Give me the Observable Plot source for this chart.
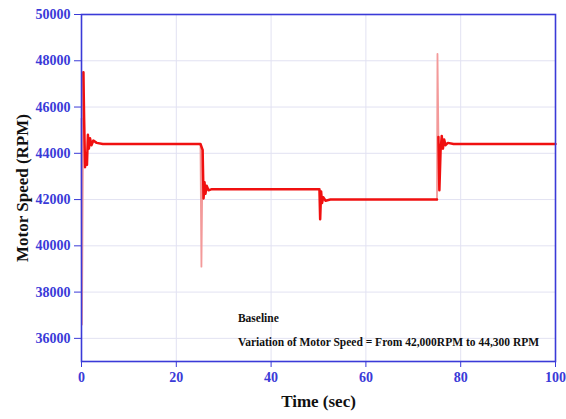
<!DOCTYPE html>
<html>
<head>
<meta charset="utf-8">
<script src="https://cdn.jsdelivr.net/npm/d3@7"></script>
<script src="https://cdn.jsdelivr.net/npm/@observablehq/plot@0.6"></script>
<style>
  html, body { margin: 0; padding: 0; background: #fff; }
  #chart svg { display: block; }
</style>
</head>
<body>
<div id="chart"></div>
<script>
// Main (settled / slower) red trace: time (s) and motor speed (RPM)
const mainTime = [0.4, 0.55, 0.75, 0.95, 1.15, 1.35, 1.55, 1.8, 2.1, 2.5, 3.2, 4.5, 25.1,
                  25.55, 25.75, 25.95, 26.15, 26.4, 26.8, 27.5, 50.2,
                  50.35, 50.55, 50.75, 51.0, 51.5, 52.5, 75.0];
const mainSpeed = [47500, 45500, 43400, 44000, 43500, 44800, 44200, 44650, 44350, 44550, 44450, 44400, 44400,
                   44150, 42050, 42750, 42250, 42600, 42400, 42450, 42450,
                   41150, 42350, 41850, 42100, 41950, 42000, 42000];
// Second red trace after the last load change
const endTime = [75.3, 75.5, 75.75, 76.0, 76.25, 76.5, 76.8, 77.3, 78.5, 100];
const endSpeed = [44700, 42400, 44100, 44750, 44200, 44600, 44350, 44450, 44400, 44400];
// Fast spikes (rendered lighter)
const spikeTime = [0, 0.1, 0.4, 25.1, 25.3, 25.55, 75.0, 75.1, 75.3];
const spikeSpeed = [45500, 36600, 47500, 44400, 39100, 44150, 42000, 48300, 44700];
const spikeGroup = ["a", "a", "a", "b", "b", "b", "c", "c", "c"];

const xTicks = [0, 20, 40, 60, 80, 100];
const yTicks = [36000, 38000, 40000, 42000, 44000, 46000, 48000, 50000];
const xTitle = "Time (sec)";
const yTitle = "Motor Speed (RPM)";
const noteLines = ["Baseline", "Variation of Motor Speed = From 42,000RPM to 44,300 RPM"];
const noteX = [33, 33];
const noteY = [36850, 35850];

const mainData = mainTime.map((t, i) => ({t, v: mainSpeed[i]}));
const endData = endTime.map((t, i) => ({t, v: endSpeed[i]}));
const spikeData = spikeTime.map((t, i) => ({t, v: spikeSpeed[i], g: spikeGroup[i]}));
const notes = noteLines.map((s, i) => ({s, x: noteX[i], y: noteY[i]}));

const blue = "#3a3ad8";
const serif = "'Liberation Serif', 'DejaVu Serif', serif";

const chart = Plot.plot({
  width: 566,
  height: 419,
  marginLeft: 81,
  marginRight: 11,
  marginTop: 14,
  marginBottom: 58,
  style: {fontFamily: serif, background: "#fff"},
  x: {domain: [0, 100], ticks: xTicks},
  y: {domain: [35000, 50000], ticks: yTicks},
  marks: [
    Plot.gridX(xTicks.filter(d => d > 0 && d < 100), {stroke: "#e2e2f2", strokeOpacity: 1}),
    Plot.gridY(yTicks.filter(d => d < 50000), {stroke: "#e2e2f2", strokeOpacity: 1}),
    Plot.line(spikeData, {x: "t", y: "v", z: "g", stroke: "#f39a9a", strokeWidth: 1.8}),
    Plot.line(mainData, {x: "t", y: "v", stroke: "#f01010", strokeWidth: 2.5}),
    Plot.line(endData, {x: "t", y: "v", stroke: "#f01010", strokeWidth: 2.5}),
    Plot.frame({stroke: blue, strokeWidth: 1.6}),
    Plot.axisX({ticks: xTicks, tickSize: 6, tickPadding: 5, stroke: blue, fill: blue,
                fontSize: 14, fontWeight: "bold", label: null, tickFormat: d3.format("d")}),
    Plot.axisY({ticks: yTicks, tickSize: 7, tickPadding: 4, stroke: blue, fill: blue,
                fontSize: 14, fontWeight: "bold", label: null, tickFormat: d3.format("d")}),
    Plot.text([xTitle], {frameAnchor: "bottom", dy: 45, fontSize: 17, fontWeight: "bold", fill: "#111"}),
    Plot.text([yTitle], {frameAnchor: "left", dx: -59, rotate: -90, textAnchor: "middle", fontSize: 17, fontWeight: "bold", fill: "#111"}),
    Plot.text(notes, {x: "x", y: "y", text: "s", textAnchor: "start", fontSize: 11.5, fontWeight: "bold", fill: "#111"})
  ]
});
document.getElementById("chart").appendChild(chart);
</script>
</body>
</html>
